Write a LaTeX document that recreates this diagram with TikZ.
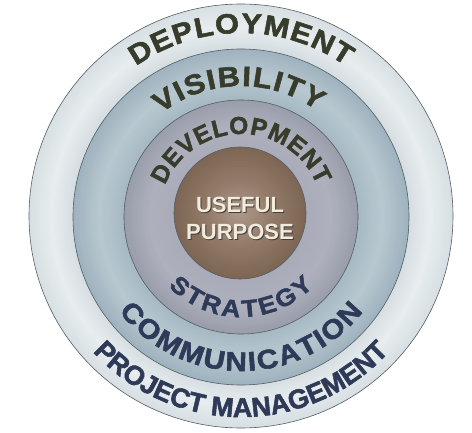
\documentclass[tikz,border=0pt]{standalone}
\usepackage{fontspec}
\setmainfont{Liberation Sans}
\newfontfamily\ringfont{Liberation Sans}[FakeStretch=1.1, FakeBold=2]
\newfontfamily\ringfontn{Liberation Sans}[FakeBold=2]
\usetikzlibrary{decorations.text}
\definecolor{aOut}{HTML}{D8E0E3}
\definecolor{aMid}{HTML}{E8EDEF}
\definecolor{aIn}{HTML}{D5DDE1}
\definecolor{bOut}{HTML}{9FB3BE}
\definecolor{bMid}{HTML}{B8C8D0}
\definecolor{bIn}{HTML}{A5B8C2}
\definecolor{cOut}{HTML}{9A9EAB}
\definecolor{cMid}{HTML}{AEB1BD}
\definecolor{cIn}{HTML}{A9ACB8}
\definecolor{dOut}{HTML}{7E6655}
\definecolor{dMid}{HTML}{947C6B}
\definecolor{dIn}{HTML}{AE9A8A}
\definecolor{topink}{HTML}{383C2C}
\definecolor{botink}{HTML}{2E3A57}
\definecolor{cream}{HTML}{F3EBDC}
\definecolor{edge}{HTML}{535E67}
\newcommand{\gradring}[6]{%
  \foreach \i in {0,...,24}{%
    \pgfmathsetmacro\rr{#2-(#2-#3)*\i/24}%
    \ifnum\i<12
      \pgfmathtruncatemacro\pp{100*\i/12}%
      \colorlet{gtmp}{#5!\pp!#4}%
    \else
      \pgfmathtruncatemacro\pp{100*(\i-12)/12}%
      \colorlet{gtmp}{#6!\pp!#5}%
    \fi
    \fill[gtmp] (#1) circle[radius=\rr pt];
  }%
}
\tikzset{
  rim/.style={draw=edge, line width=0.6pt},
  arctext/.style 2 args={decorate, decoration={text along path, text align={fit to path}, text color=#1, text={#2}}},
}
\begin{document}
\begin{tikzpicture}[x=1pt,y=1pt]
\useasboundingbox (0,0) rectangle (472,432);
\fill[white] (0,0) rectangle (472,432);
\coordinate (cA) at (241,216);
\coordinate (cB) at (241,215);
\coordinate (cC) at (241,215);
\coordinate (cD) at (240,219);
\coordinate (tc) at (241,216);
% rings
\gradring{cA}{212}{168}{aOut}{aMid}{aIn}
\draw[rim] (cA) circle[radius=212pt];
\gradring{cB}{168}{117}{bOut}{bMid}{bIn}
\draw[rim] (cB) circle[radius=168pt];
\gradring{cC}{117}{66}{cOut}{cMid}{cIn}
\draw[rim] (cC) circle[radius=117pt];
\gradring{cD}{66}{0}{dOut}{dMid}{dIn}
\draw[rim] (cD) circle[radius=66pt];
% top texts
\path[arctext={topink}{|\ringfont\bfseries\fontsize{28pt}{28pt}\selectfont|DEPLOYMENT}]
  (tc) ++(125:183pt) arc[start angle=125, end angle=55, radius=183pt];
\path[arctext={topink}{|\ringfont\bfseries\fontsize{28pt}{28pt}\selectfont|VISIBILITY}]
  (tc) ++(128:130pt) arc[start angle=128, end angle=54, radius=130pt];
\path[arctext={topink}{|\ringfontn\bfseries\fontsize{24.5pt}{24.5pt}\selectfont|DEVELOPMENT}]
  (tc) ++(158:82pt) arc[start angle=158, end angle=22, radius=82pt];
% bottom texts
\path[arctext={botink}{|\ringfont\bfseries\fontsize{24pt}{24pt}\selectfont|STRATEGY}]
  (tc) ++(224:101pt) arc[start angle=224, end angle=316, radius=101pt];
\path[arctext={botink}{|\ringfont\bfseries\fontsize{27pt}{27pt}\selectfont|COMMUNICATION}]
  (tc) ++(218:155pt) arc[start angle=218, end angle=322, radius=155pt];
\path[arctext={botink}{|\ringfontn\bfseries\fontsize{27pt}{27pt}\selectfont|PROJECT MANAGEMENT}]
  (tc) ++(222.5:201pt) arc[start angle=222.5, end angle=317.5, radius=201pt];
% centre text
\node[text=black!75, align=center, font=\bfseries\fontsize{22pt}{27pt}\selectfont] (purposeshadow) at (241,213) {USEFUL\\PURPOSE};
\node[text=cream, align=center, font=\bfseries\fontsize{22pt}{27pt}\selectfont] (purpose) at (240,214) {USEFUL\\PURPOSE};
\end{tikzpicture}
\end{document}
